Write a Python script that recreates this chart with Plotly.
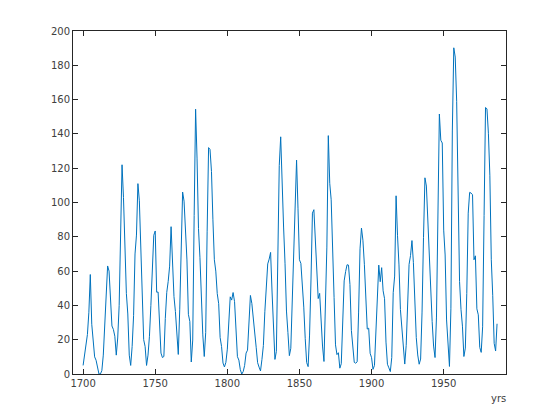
import plotly.graph_objects as go

start_year = 1700
sunspots = [
5.0,11.0,16.0,23.0,36.0,58.0,29.0,20.0,10.0,8.0,
3.0,0.0,0.0,2.0,11.0,27.0,47.0,63.0,60.0,39.0,
28.0,26.0,22.0,11.0,21.0,40.0,78.0,122.0,103.0,73.0,
47.0,35.0,11.0,5.0,16.0,34.0,70.0,81.0,111.0,101.0,
73.0,40.0,20.0,16.0,5.0,11.0,22.0,40.0,60.0,80.9,
83.4,47.7,47.8,30.7,12.2,9.6,10.2,32.4,47.6,54.0,
62.9,85.9,61.2,45.1,36.4,20.9,11.4,37.8,69.8,106.1,
100.8,81.6,66.5,34.8,30.6,7.0,19.8,92.5,154.4,125.9,
84.8,68.1,38.5,22.8,10.2,24.1,82.9,132.0,130.9,118.1,
89.9,66.6,60.0,46.9,41.0,21.3,16.0,6.4,4.1,6.8,
14.5,34.0,45.0,43.1,47.5,42.2,28.1,10.1,8.1,2.5,
0.0,1.4,5.0,12.2,13.9,35.4,45.8,41.1,30.1,23.9,
15.6,6.6,4.0,1.8,8.5,16.6,36.3,49.6,64.2,67.0,
70.9,47.8,27.5,8.5,13.2,56.9,121.5,138.3,103.2,85.7,
64.6,36.7,24.2,10.7,15.0,40.1,61.5,98.5,124.7,96.3,
66.6,64.5,54.1,39.0,20.6,6.7,4.3,22.7,54.8,93.8,
95.8,77.2,59.1,44.0,47.0,30.5,16.3,7.3,37.6,74.0,
139.0,111.2,101.6,66.2,44.7,17.0,11.3,12.4,3.4,6.0,
32.3,54.3,59.7,63.7,63.5,52.2,25.4,13.1,6.8,6.3,
7.1,35.6,73.0,85.1,78.0,64.0,41.8,26.2,26.7,12.1,
9.5,2.7,5.0,24.4,42.0,63.5,53.8,62.0,48.5,43.9,
18.6,5.7,3.6,1.4,9.6,47.4,57.1,103.9,80.6,63.6,
37.6,26.1,14.2,5.8,16.7,44.3,63.9,69.0,77.8,64.9,
35.7,21.2,11.1,5.7,8.7,36.1,79.7,114.4,109.6,88.8,
67.8,47.5,30.6,16.3,9.6,33.2,92.6,151.6,136.3,134.7,
83.9,69.4,31.5,13.9,4.4,38.0,141.7,190.2,184.8,159.0,
112.3,53.9,37.6,27.9,10.2,15.1,47.0,93.8,105.9,105.5,
104.5,66.6,68.9,38.0,34.5,15.5,12.6,27.5,92.5,155.4,
154.6,140.4,115.9,66.6,45.9,17.9,13.4,29.3,
]
years = [start_year + i for i in range(len(sunspots))]
x_ticks = [1700, 1750, 1800, 1850, 1900, 1950]
y_ticks = [0, 20, 40, 60, 80, 100, 120, 140, 160, 180, 200]

fig = go.Figure(go.Scatter(x=years, y=sunspots, mode="lines",
                           line=dict(color="#0072BD", width=1)))

axis_common = dict(showline=True, linecolor="#262626", linewidth=1, mirror="ticks",
                   ticks="inside", ticklen=5, tickcolor="#262626", showgrid=False,
                   zeroline=False, automargin=False,
                   tickfont=dict(family="DejaVu Sans", size=10, color="#404040"))
fig.update_xaxes(range=[1693, 1993.2], tickvals=x_ticks, **axis_common)
fig.update_yaxes(range=[0, 200], tickvals=y_ticks, **axis_common)

fig.add_annotation(text="yrs", xref="x domain", yref="y domain",
                   x=(498 - 73) / (506 - 73), y=-(398.5 - 374) / (374 - 31),
                   xanchor="center", yanchor="middle", showarrow=False,
                   font=dict(family="DejaVu Sans", size=10, color="#404040"))

# page body has an 8px default margin, so the figure is offset by 8px
fig.update_layout(width=560, height=420, margin=dict(l=65, r=62, t=23, b=54, autoexpand=False),
                  plot_bgcolor="white", paper_bgcolor="white", showlegend=False)
fig.write_html("out.html")
